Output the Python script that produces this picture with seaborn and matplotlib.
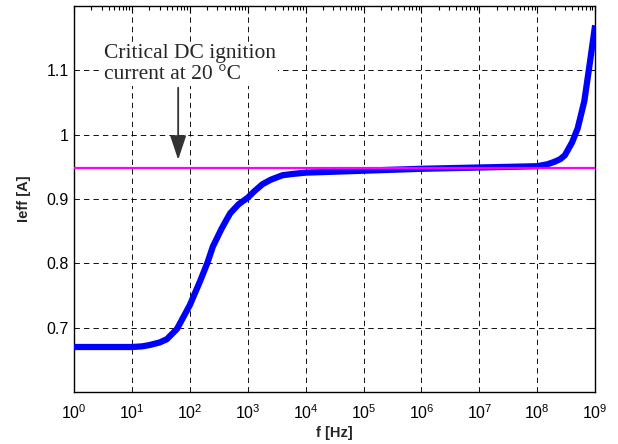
import numpy as np
import pandas as pd
import matplotlib
matplotlib.use("Agg")
import matplotlib.pyplot as plt
import seaborn as sns

# data
freq_hz = [1, 10, 15, 20, 30, 40, 60, 100, 150, 200, 250, 350, 420, 500, 700,
           1000, 1300, 1800, 2500, 4000, 6000, 1e4, 1e5, 1e6, 1e7, 1e8, 1.5e8,
           2e8, 2.5e8, 3e8, 4e8, 5e8, 6.5e8, 8e8, 1e9]
ieff_a = [0.670, 0.670, 0.671, 0.673, 0.677, 0.682, 0.698, 0.735, 0.772, 0.800,
          0.826, 0.853, 0.866, 0.878, 0.892, 0.902, 0.912, 0.923, 0.930, 0.937,
          0.939, 0.941, 0.944, 0.947, 0.949, 0.951, 0.954, 0.958, 0.962, 0.968,
          0.988, 1.010, 1.052, 1.108, 1.170]
critical_dc = 0.948
x_ticks = [10.0 ** k for k in range(10)]
y_ticks = [0.7, 0.8, 0.9, 1.0, 1.1]
y_tick_labels = ["0.7", "0.8", "0.9", "1", "1.1"]

df = pd.DataFrame({"f": freq_hz, "Ieff": ieff_a})

sns.set_style("white")
plt.rcParams["font.family"] = ["Liberation Sans", "DejaVu Sans"]
plt.rcParams["mathtext.fontset"] = "custom"
plt.rcParams["mathtext.rm"] = "Liberation Sans"
plt.rcParams["mathtext.it"] = "Liberation Sans:italic"
plt.rcParams["mathtext.bf"] = "Liberation Sans:bold"

fig = plt.figure(figsize=(6.18, 4.44), dpi=100)
ax = fig.add_axes([0.1197, 0.117, 0.8433, 0.8695])

sns.lineplot(data=df, x="f", y="Ieff", ax=ax, color="#0000ff", linewidth=4.5,
             solid_capstyle="butt", solid_joinstyle="round", zorder=3)
ax.axhline(critical_dc, color="#ff00ff", linewidth=1.6, zorder=4)

ax.set_xscale("log")
ax.set_xlim(1, 1e9)
ax.set_ylim(0.6, 1.2)
ax.set_xticks(x_ticks)
ax.set_yticks(y_ticks)
ax.set_yticklabels(y_tick_labels)

ax.grid(True, which="major", color="black", linestyle=(0, (6, 4.5)), linewidth=0.65)
ax.tick_params(which="both", direction="in", top=True, right=True, labelsize=11.5,
               colors="black", width=0.8)
ax.tick_params(which="major", length=5)
ax.tick_params(which="minor", length=3)
ax.tick_params(axis="x", pad=8)
for s in ax.spines.values():
    s.set_color("black")
    s.set_linewidth(1.0)

ax.set_xlabel("f [Hz]", fontsize=10.5, fontweight="bold", labelpad=3)
ax.set_ylabel("Ieff [A]", fontsize=10.5, fontweight="bold", labelpad=11)

ax.text(3.3, 1.141, "Critical DC ignition\ncurrent at 20 \u00b0C",
        family=["Liberation Serif", "DejaVu Serif"], fontsize=15.5,
        va="top", ha="left", linespacing=1.12, zorder=5,
        bbox=dict(facecolor="white", edgecolor="none", pad=1.5))
ax.annotate("", xy=(63, 0.961), xytext=(63, 1.073),
            arrowprops=dict(arrowstyle="-|>,head_length=1.5,head_width=0.5",
                            color="#333333", lw=1.3, shrinkA=0, shrinkB=0))

fig.savefig("out.png", dpi=100)
